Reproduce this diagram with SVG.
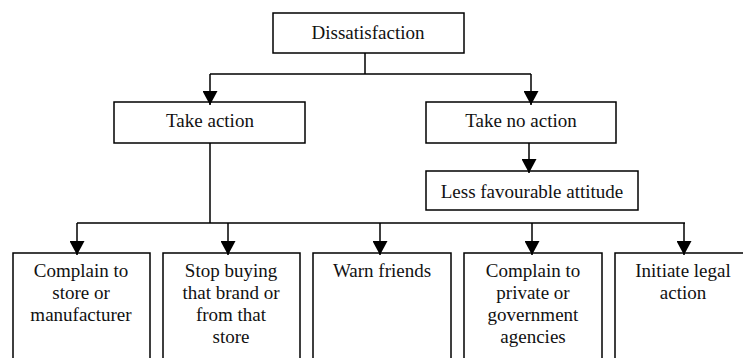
<svg xmlns="http://www.w3.org/2000/svg" width="743" height="358" viewBox="0 0 743 358">
<style>
.box{fill:#fff;stroke:#000;stroke-width:1.5}
.t{font-family:"Liberation Serif","Times New Roman",serif;font-size:19px;fill:#111;text-anchor:middle}
.c{fill:none;stroke:#000;stroke-width:1.5}
</style>
<defs>
<marker id="ah" markerUnits="userSpaceOnUse" markerWidth="15" markerHeight="15" viewBox="0 0 15 15" refX="7.5" refY="14" orient="0">
<path d="M0,0 L15,0 L7.5,14 Z" fill="#000"/>
</marker>
</defs>
<rect width="743" height="358" fill="#fff"/>
<g id="n-dissatisfaction"><rect class="box" x="273" y="13" width="191" height="40"/><text class="t" x="368" y="39">Dissatisfaction</text></g>
<g id="n-take-action"><rect class="box" x="114" y="102" width="191" height="41"/><text class="t" x="210" y="127">Take action</text></g>
<g id="n-take-no-action"><rect class="box" x="426" y="102" width="190" height="41"/><text class="t" x="521" y="127">Take no action</text></g>
<g id="n-less-favourable"><rect class="box" x="426" y="171" width="212" height="39"/><text class="t" x="532" y="198">Less favourable attitude</text></g>
<g id="n-complain-store"><rect class="box" x="13" y="253" width="137" height="120"/><text class="t" x="81" y="277">Complain to</text><text class="t" x="81" y="299">store or</text><text class="t" x="81" y="321">manufacturer</text></g>
<g id="n-stop-buying"><rect class="box" x="163" y="253" width="137" height="120"/><text class="t" x="231" y="277">Stop buying</text><text class="t" x="231" y="299">that brand or</text><text class="t" x="231" y="321">from that</text><text class="t" x="231" y="343">store</text></g>
<g id="n-warn-friends"><rect class="box" x="313" y="253" width="138" height="120"/><text class="t" x="382" y="277">Warn friends</text></g>
<g id="n-complain-agencies"><rect class="box" x="464" y="253" width="138" height="120"/><text class="t" x="533" y="277">Complain to</text><text class="t" x="533" y="299">private or</text><text class="t" x="533" y="321">government</text><text class="t" x="533" y="343">agencies</text></g>
<g id="n-legal-action"><rect class="box" x="615" y="253" width="138" height="120"/><text class="t" x="683" y="277">Initiate legal</text><text class="t" x="683" y="299">action</text></g>
<g id="connectors">
<path class="c" d="M365,53 V74 M210,74 H531"/>
<path class="c" d="M210,74 V105" marker-end="url(#ah)"/>
<path class="c" d="M531,74 V105" marker-end="url(#ah)"/>
<path class="c" d="M529,143 V173" marker-end="url(#ah)"/>
<path class="c" d="M210,143 V223 M77,223 H685"/>
<path class="c" d="M77,223 V255" marker-end="url(#ah)"/>
<path class="c" d="M228,223 V255" marker-end="url(#ah)"/>
<path class="c" d="M380,223 V255" marker-end="url(#ah)"/>
<path class="c" d="M532,223 V255" marker-end="url(#ah)"/>
<path class="c" d="M684,223 V255" marker-end="url(#ah)"/>
</g>
</svg>
